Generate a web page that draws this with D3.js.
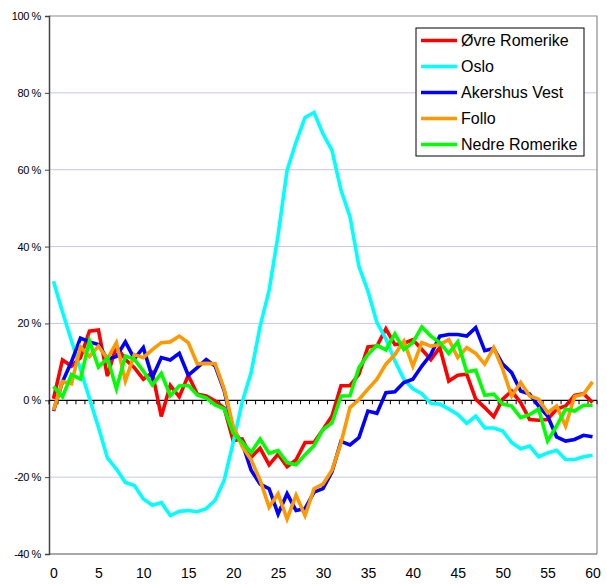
<!DOCTYPE html>
<html>
<head>
<meta charset="utf-8">
<script src="https://cdn.jsdelivr.net/npm/d3@7"></script>
<style>
  html, body { margin: 0; padding: 0; background: #fff; }
  svg { display: block; font-family: "Liberation Sans", Arial, sans-serif; }
</style>
</head>
<body>
<svg id="chart" width="607" height="584"></svg>
<script>
// ---- data ----
const categories = d3.range(0, 61);
const xTickLabels = [0, 5, 10, 15, 20, 25, 30, 35, 40, 45, 50, 55, 60];
const yTickValues = [-40, -20, 0, 20, 40, 60, 80, 100];
const seriesNames = ["Øvre Romerike", "Oslo", "Akershus Vest", "Follo", "Nedre Romerike"];
const seriesColors = ["#ff0000", "#00ffff", "#0000ff", "#ff9900", "#00ff00"];

const ovreRomerike = [0.4, 10.5, 8.9, 11.1, 18, 18.3, 6.3, 14.1, 10.6, 8.5,
  5.5, 7.2, -4.2, 3.9, 0.9, 6.5, 1.6, 1.1, -0.2, -2,
  -10.5, -10.1, -14.8, -12.5, -16.8, -14, -17.3, -15.5, -11, -11,
  -7.6, -4.1, 3.8, 3.8, 6.8, 13.9, 14.1, 18.6, 14.5, 14.8,
  15.8, 13.2, 10.6, 13.7, 5, 6.5, 6.8, 0.3, -1.9, -4.3,
  0.3, 2.4, -0.6, -5, -5.2, -5, -2.3, -1.5, 1.3, 1.7, -0.6];
const oslo = [31, 23, 15.5, 8, 0.5, -7, -15, -17.9, -21.4, -22.2,
  -25.7, -27.3, -26.6, -30, -28.9, -28.7, -29, -28.2, -26, -20.8,
  -11, -0.5, 7.2, 19.3, 28.6, 43, 59.8, 67.2, 73.6, 74.9,
  69.3, 65, 54.7, 47.8, 34.8, 28.4, 20.2, 16, 10.2, 5.5,
  3, 1.7, -0.8, -1, -2.3, -3.7, -6, -4.1, -7.2, -7.2,
  -8, -11, -12.6, -11.9, -14.7, -13.7, -13, -15.4, -15.4, -14.7, -14.3];
const akershusVest = [-2.8, 4.8, 10, 16.2, 15.2, 14.5, 10.7, 11.4, 15.2, 10.8,
  13.7, 5.9, 11.1, 10.5, 12.2, 6.5, 8.5, 10.6, 8.9, 2.5,
  -7.6, -11.1, -18.2, -21.8, -23, -29.6, -24.3, -28.7, -28.2, -23.9,
  -23, -18.6, -10.7, -11.6, -9.7, -2.8, -3.4, 2, 2.2, 4.6,
  5.5, 8.9, 11.9, 16.7, 17.1, 17.1, 16.7, 18.9, 12.9, 13.5,
  9.4, 7.2, 2.4, 1.6, -1.5, -4.1, -9.5, -10.6, -10.2, -9.1, -9.5];
const follo = [-2.6, 4.9, 4.3, 13.9, 11.4, 14.1, 10.8, 15, 5, 11.9,
  11.1, 13.2, 15, 15.2, 16.7, 15, 9.5, 9.6, 9.5, 2.9,
  -6.8, -12, -15.5, -20.8, -27.8, -24.3, -30.9, -24.7, -30, -23,
  -21.8, -18.2, -11.1, -1.9, 0.2, 2.9, 5.5, 9.4, 11.9, 15.4,
  8.9, 15, 14.1, 14.5, 15.8, 11.1, 13.7, 12.2, 9.4, 13.7,
  8.1, 1.1, 4.6, 1.1, 0.3, -3.2, -1.5, -6.7, 1, 1.6, 4.8];
const nedreRomerike = [3.6, 0.9, 6.7, 5.5, 15.5, 8.6, 11, 3, 11.5, 10.7,
  7.6, 4, 7, 1.2, 3.7, 3.9, 1.4, 0.6, -1.2, -2.2,
  -8.5, -10.9, -13.6, -10.1, -13.8, -13.1, -16.2, -16.8, -14.2, -11.8,
  -7.6, -5.9, 1.1, 1.2, 8.5, 11.9, 14.3, 13.1, 17.3, 13.2,
  15, 19.1, 16.7, 15, 12.2, 15.2, 7.4, 7.8, 1.3, 1.6,
  -1, -1.5, -4.5, -3.7, -2.3, -10.6, -6.7, -2.3, -2.8, -1.3, -1.3];

const seriesValues = [ovreRomerike, oslo, akershusVest, follo, nedreRomerike];

// ---- layout ----
const plot = { left: 49, right: 597, top: 16, bottom: 554 };
const svg = d3.select("#chart");

const xBand = d3.scaleBand().domain(categories).range([plot.left, plot.right]).padding(0);
const x = d3.scalePoint().domain(categories).range([plot.left, plot.right]).padding(0.5);
const y = d3.scaleLinear().domain([-40, 100]).range([plot.bottom, plot.top]);

// gridlines
svg.append("g")
  .selectAll("line")
  .data(yTickValues.filter(v => v !== 0 && v !== -40 && v !== 100))
  .join("line")
  .attr("x1", plot.left).attr("x2", plot.right)
  .attr("y1", d => y(d)).attr("y2", d => y(d))
  .attr("stroke", "#c6c6f2").attr("stroke-width", 1);

// plot border (top & right)
svg.append("path")
  .attr("d", `M${plot.left},${y(100)}H${plot.right}V${plot.bottom}`)
  .attr("fill", "none").attr("stroke", "#8c8c8c").attr("stroke-width", 1.2);
svg.append("line")
  .attr("x1", plot.left).attr("x2", plot.right)
  .attr("y1", plot.bottom).attr("y2", plot.bottom)
  .attr("stroke", "#555").attr("stroke-width", 1.2);

// y axis
const yAxis = d3.axisLeft(y).tickValues(yTickValues).tickFormat(d => d + " %").tickSize(4).tickPadding(4);
const gy = svg.append("g").attr("transform", `translate(${plot.left},0)`).call(yAxis);
gy.select(".domain").attr("stroke", "#444").attr("stroke-width", 1.5);
gy.selectAll(".tick line").attr("stroke", "#444");
gy.selectAll("text").attr("font-size", 11).attr("fill", "#000").attr("letter-spacing", "-0.4");

// zero line with tick marks
svg.append("line")
  .attr("x1", plot.left).attr("x2", plot.right)
  .attr("y1", y(0)).attr("y2", y(0))
  .attr("stroke", "#000").attr("stroke-width", 1.3);
const boundaries = categories.map(c => xBand(c)).concat([plot.right]);
svg.append("g").selectAll("line").data(boundaries).join("line")
  .attr("x1", d => d).attr("x2", d => d)
  .attr("y1", y(0)).attr("y2", y(0) + 4)
  .attr("stroke", "#000").attr("stroke-width", 1);

// x labels
const xAxis = d3.axisBottom(x).tickValues(xTickLabels).tickSize(0).tickPadding(14);
const gx = svg.append("g").attr("transform", `translate(0,${plot.bottom})`).call(xAxis);
gx.select(".domain").remove();
gx.selectAll("text").attr("font-size", 14).attr("fill", "#000");

// lines
const line = d3.line().x((d, i) => x(categories[i])).y(d => y(d));
svg.append("g").selectAll("path")
  .data(seriesValues)
  .join("path")
  .attr("d", d => line(d))
  .attr("fill", "none")
  .attr("stroke", (d, i) => seriesColors[i])
  .attr("stroke-width", 3.6)
  .attr("stroke-linejoin", "miter")
  .attr("stroke-miterlimit", 4);

// legend
const lg = svg.append("g");
lg.append("rect").attr("x", 416).attr("y", 28).attr("width", 168).attr("height", 128)
  .attr("fill", "#fff").attr("stroke", "#000").attr("stroke-width", 1);
const rows = lg.selectAll("g.row").data(seriesNames).join("g").attr("class", "row")
  .attr("transform", (d, i) => `translate(0,${40.5 + i * 26})`);
rows.append("line").attr("x1", 421).attr("x2", 457).attr("y1", 0).attr("y2", 0)
  .attr("stroke", (d, i) => seriesColors[i]).attr("stroke-width", 3.6);
rows.append("text").attr("x", 461).attr("y", 0).attr("dy", "0.36em")
  .attr("font-size", 16).attr("fill", "#000").text(d => d);
</script>
</body>
</html>
